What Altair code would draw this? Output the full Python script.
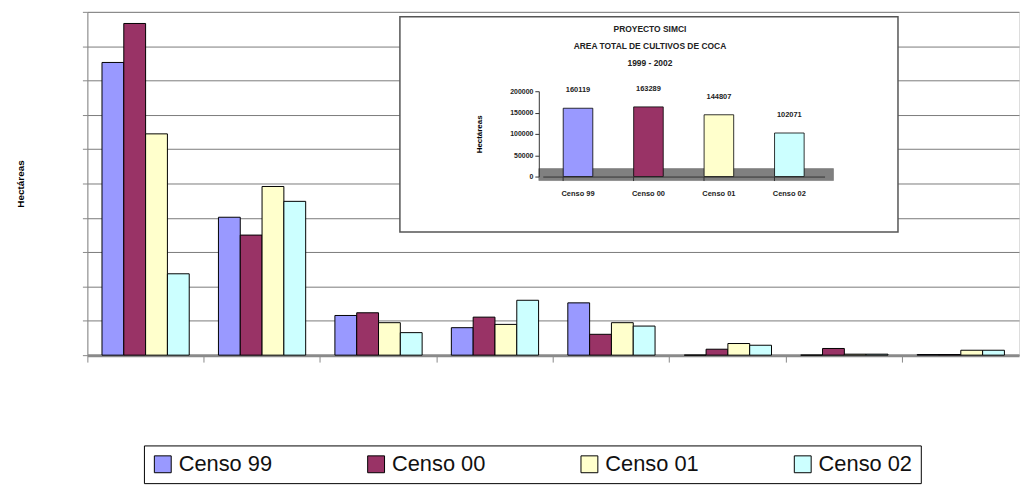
import altair as alt
import pandas as pd

# ---- main chart data (hectares) ----
categories = ["1", "2", "3", "4", "5", "6", "7", "8"]
series = ["Censo 99", "Censo 00", "Censo 01", "Censo 02"]
censo_99 = [59680, 28120, 8090, 5600, 10660, 0, 0, 120]
censo_00 = [67630, 24480, 8640, 7750, 4250, 1210, 1360, 120]
censo_01 = [45120, 34390, 6620, 6270, 6620, 2370, 200, 1000]
censo_02 = [16590, 31360, 4590, 11190, 5930, 2020, 200, 1000]
colors = ["#9999FF", "#993366", "#FFFFCC", "#CCFFFF"]

# ---- inset data ----
inset_labels = series
inset_totals = [160119, 163289, 144807, 102071]
inset_ticks = [0, 50000, 100000, 150000, 200000]
inset_title = ["PROYECTO SIMCI", "AREA TOTAL DE CULTIVOS DE COCA", "1999 - 2002"]

FONT = "Liberation Sans"

rows = []
for s, vals in zip(series, [censo_99, censo_00, censo_01, censo_02]):
    for c, v in zip(categories, vals):
        rows.append({"cat": c, "serie": s, "val": v})
df = pd.DataFrame(rows)

df_in = pd.DataFrame({"serie": inset_labels, "tot": inset_totals})

main = alt.Chart(df).mark_bar(stroke="black", strokeWidth=1).encode(
    x=alt.X("cat:N", sort=categories,
            scale=alt.Scale(paddingInner=0, paddingOuter=0),
            axis=alt.Axis(orient="bottom", labels=False, title=None, bandPosition=0,
                          tickSize=7, tickColor="#888888", domainColor="#8a8a8a",
                          domainWidth=3, grid=False, zindex=0)),
    xOffset=alt.XOffset("serie:N", sort=series,
                        scale=alt.Scale(paddingOuter=0.67, paddingInner=0)),
    y=alt.Y("val:Q", scale=alt.Scale(domain=[0, 70000], nice=False),
            axis=alt.Axis(orient="left", values=list(range(0, 70001, 7000)), labels=False,
                          title="Hectáreas", titleFont=FONT, titleFontSize=10,
                          titleFontWeight="bold", titlePadding=57, tickSize=5,
                          tickColor="#888888", domainColor="#888888",
                          gridColor="#7a7a7a", gridWidth=1, zindex=0)),
    color=alt.Color("serie:N", sort=series,
                    scale=alt.Scale(domain=series, range=colors),
                    legend=alt.Legend(orient="none", legendX=57, legendY=437,
                                      direction="horizontal", columns=4, title=None,
                                      symbolType="square", symbolSize=289,
                                      symbolStrokeColor="black", symbolStrokeWidth=1,
                                      labelFont=FONT, labelFontSize=22, labelColor="#111111",
                                      labelOffset=5, columnPadding=93, padding=8,
                                      strokeColor="black", fillColor="white")),
)

box = alt.Chart(pd.DataFrame({"k": [0]})).mark_rect(
    fill="white", stroke="#555555", strokeWidth=1.5
).encode(x=alt.value(315), x2=alt.value(817), y=alt.value(5), y2=alt.value(222))

floor = alt.Chart(pd.DataFrame({"k": [0]})).mark_rect(
    fill="#808080", stroke="#666666", strokeWidth=0.5
).encode(x=alt.value(455), x2=alt.value(752), y=alt.value(158), y2=alt.value(170))

in_x = alt.X("serie:N", sort=inset_labels,
             scale=alt.Scale(range=[459, 743], paddingInner=0.58, paddingOuter=0.29),
             axis=alt.Axis(orient="bottom", offset=-180, title=None, labelAngle=0,
                           labelFont=FONT, labelFontSize=7.5, labelFontWeight="bold",
                           labelColor="#222222", labelPadding=9, bandPosition=0,
                           tickSize=4, tickColor="#333333", domainColor="#333333",
                           grid=False, zindex=1))
in_y = alt.Y("tot:Q", scale=alt.Scale(domain=[0, 200000], range=[166, 80], nice=False),
             axis=alt.Axis(orient="left", offset=-455, values=inset_ticks, format="d",
                           title="Hectáreas", titleFont=FONT, titleFontSize=8,
                           titleFontWeight="bold", titlePadding=26,
                           labelFont=FONT, labelFontSize=7, labelFontWeight="bold",
                           labelColor="#222222", tickSize=4, tickColor="#333333",
                           domainColor="#333333", grid=False, zindex=1))

in_bars = alt.Chart(df_in).mark_bar(stroke="black", strokeWidth=0.8).encode(
    x=in_x, y=in_y,
    color=alt.Color("serie:N", scale=alt.Scale(domain=series, range=colors), legend=None),
)
in_text = alt.Chart(df_in).mark_text(
    baseline="bottom", dy=-14, font=FONT, fontSize=7.5, fontWeight="bold", color="#222222"
).encode(x=in_x, y=in_y, text=alt.Text("tot:Q", format="d"))

inset = alt.layer(in_bars, in_text)

title_layers = []
for line, ypos in zip(inset_title, [17, 34, 52]):
    title_layers.append(
        alt.Chart(pd.DataFrame({"k": [0]})).mark_text(
            text=line, font=FONT, fontSize=8.5, fontWeight="bold", color="#222222",
            align="center", baseline="middle"
        ).encode(x=alt.value(567), y=alt.value(ypos))
    )

chart = alt.layer(main, box, floor, inset, *title_layers).resolve_scale(
    x="independent", y="independent", color="independent"
).properties(
    width=939, height=346,
    autosize=alt.AutoSizeParams(type="none"),
    padding={"left": 80, "top": 2, "right": 4, "bottom": 130},
).configure_view(stroke=None).configure(background="white")

chart.save("out.html", embed_options={"renderer": "svg", "actions": False})
